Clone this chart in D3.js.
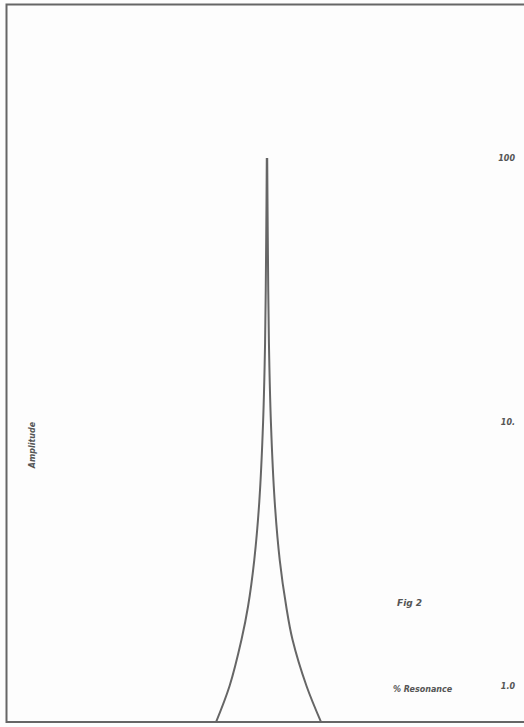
<!DOCTYPE html>
<html>
<head>
<meta charset="utf-8">
<script src="https://cdn.jsdelivr.net/npm/d3@7"></script>
<style>
  body { margin: 0; background: #fdfdfd; }
  text { font-family: "DejaVu Sans", sans-serif; font-style: italic; font-weight: bold; fill: #555; }
</style>
</head>
<body>
<div id="chart"></div>
<script>
// size of the page
var width = 524,
    height = 727

// amplitude values (right side)
var amplitude = [0.73, 1.0, 1.5, 2, 3, 5, 10, 20, 50, 100]
// detuning of each point, left and right branch (arbitrary units, resonance = 0)
var leftDev  = [-0.98, -0.72, -0.49, -0.365, -0.245, -0.148, -0.075, -0.037, -0.015, -0.004]
var rightDev = [1.04, 0.76, 0.49, 0.37, 0.245, 0.148, 0.075, 0.037, 0.015, 0.004]
// tick labels on the right
var tickValues = [1, 10, 100]
var tickLabels = ["1.0", "10.", "100"]

var svg = d3.select("#chart")
  .append("svg")
    .attr("width", width)
    .attr("height", height)

// scales
var x = d3.scaleLinear()
  .domain([-5, 5])
  .range([7, 527])

var y = d3.scaleLog()
  .domain([1, 100])
  .range([686, 158])

var yBottom = y(0.73)

// frame (open on the right, runs off the page)
svg.append("path")
  .attr("d", "M" + (width + 5) + ",4.5 L6.5,4.5 L6.5," + yBottom + " L" + (width + 5) + "," + yBottom)
  .attr("fill", "none")
  .attr("stroke", "#666")
  .attr("stroke-width", 2)

// resonance curve, two branches
var line = d3.line()
  .x(function(d) { return x(d[0]) })
  .y(function(d) { return y(d[1]) })
  .curve(d3.curveCatmullRom.alpha(0.5))

function branch(dev) {
  return dev.map(function(d, i) { return [d, amplitude[i]] })
}

svg.append("path")
  .datum(branch(leftDev))
  .attr("d", line)
  .attr("fill", "none")
  .attr("stroke", "#666")
  .attr("stroke-width", 2)

svg.append("path")
  .datum(branch(rightDev))
  .attr("d", line)
  .attr("fill", "none")
  .attr("stroke", "#666")
  .attr("stroke-width", 2)

// spike at the peak
svg.append("line")
  .attr("x1", x(0)).attr("x2", x(0))
  .attr("y1", y(100)).attr("y2", y(40))
  .attr("stroke", "#666")
  .attr("stroke-width", 2)

// right log axis labels
var axis = d3.axisLeft(y)
  .tickValues(tickValues)
  .tickSize(0)
  .tickPadding(0)
  .tickFormat(function(d, i) { return tickLabels[i] })

var ax = svg.append("g")
  .attr("transform", "translate(515,0)")
  .call(axis)
ax.select(".domain").remove()
ax.selectAll("text")
  .style("font-family", "DejaVu Sans, sans-serif")
  .style("font-size", "8px")
  .style("font-style", "italic")
  .style("font-weight", "bold")
  .attr("fill", "#555")

// labels
svg.append("text")
  .attr("transform", "translate(35,445) rotate(-90)")
  .attr("text-anchor", "middle")
  .style("font-size", "8px")
  .text("Amplitude")

svg.append("text")
  .attr("x", 397)
  .attr("y", 606)
  .style("font-size", "9px")
  .text("Fig 2")

svg.append("text")
  .attr("x", 393)
  .attr("y", 692)
  .style("font-size", "8px")
  .text("% Resonance")
</script>
</body>
</html>
